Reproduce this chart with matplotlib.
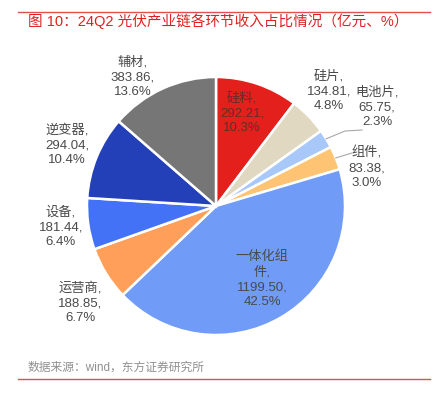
import numpy as np
import matplotlib
matplotlib.use("Agg")
import matplotlib.pyplot as plt

plt.rcParams['font.family'] = ['Liberation Sans', 'Noto Sans CJK SC', 'DejaVu Sans']

categories = ['硅料', '硅片', '电池片', '组件', '一体化组件', '运营商', '设备', '逆变器', '辅材']
values = [292.21, 134.81, 65.75, 83.38, 1199.50, 188.85, 181.44, 294.04, 383.86]
percents = ['10.3%', '4.8%', '2.3%', '3.0%', '42.5%', '6.7%', '6.4%', '10.4%', '13.6%']
colors = ['#E3201B', '#E0D8C0', '#A8C8FA', '#FFC473', '#709CF8',
          '#FF9F5A', '#4472F6', '#2440B8', '#767676']

W, H = 442, 399
fig = plt.figure(figsize=(W / 100, H / 100), dpi=100)
ax = fig.add_axes([0, 0, 1, 1])

cx, cy, r = 216, H - 206, 129
wedges, _ = ax.pie(values, colors=colors, startangle=90, counterclock=False,
                   center=(cx, cy), radius=r,
                   wedgeprops=dict(edgecolor='white', linewidth=1.8), frame=True)
ax.set_xlim(0, W)
ax.set_ylim(0, H)
ax.axis('off')

txt_color = '#4a4a4a'
fs = 9.5

# label positions (pixel coords from top)
pos = {
    '硅料': (242, 113),
    '硅片': (329, 91),
    '电池片': (377, 107),
    '组件': (367, 168),
    '一体化组件': (262, 279),
    '运营商': (80, 303),
    '设备': (61, 227),
    '逆变器': (67, 145),
    '辅材': (133, 77),
}

for i, c in enumerate(categories):
    if c == '一体化组件':
        s = '一体化组\n件,\n%.2f,\n%s' % (values[i], percents[i])
    else:
        s = '%s,\n%.2f,\n%s' % (c, values[i], percents[i])
    x, y = pos[c]
    col = '#6a2a2a' if c == '硅料' else txt_color
    ax.text(x, H - y, s, ha='center', va='center', fontsize=fs,
            color=col, linespacing=1.3)

# leader lines for small slices (elbow then end point, pixel coords from top)
leaders = {'电池片': [(345, 131), (362, 130)], '组件': [(352, 153)]}
for c, pts in leaders.items():
    w = wedges[categories.index(c)]
    th = np.deg2rad((w.theta1 + w.theta2) / 2)
    xs = [cx + r * np.cos(th)] + [p[0] for p in pts]
    ys = [cy + r * np.sin(th)] + [H - p[1] for p in pts]
    ax.plot(xs, ys, color='#A8A8A8', lw=0.8)

# title and decorations
ax.plot([18, 430], [H - 12, H - 12], color='#E05050', lw=1.0)
ax.text(28, H - 21, '图 10：24Q2 光伏产业链各环节收入占比情况（亿元、%）',
        ha='left', va='center', fontsize=10.5, color='#E02020')
ax.text(28, H - 368, '数据来源：wind，东方证券研究所', ha='left', va='center',
        fontsize=8.5, color='#909090')
ax.plot([18, 430], [H - 379, H - 379], color='#E05050', lw=1.0)

fig.savefig('out.png', dpi=100)
